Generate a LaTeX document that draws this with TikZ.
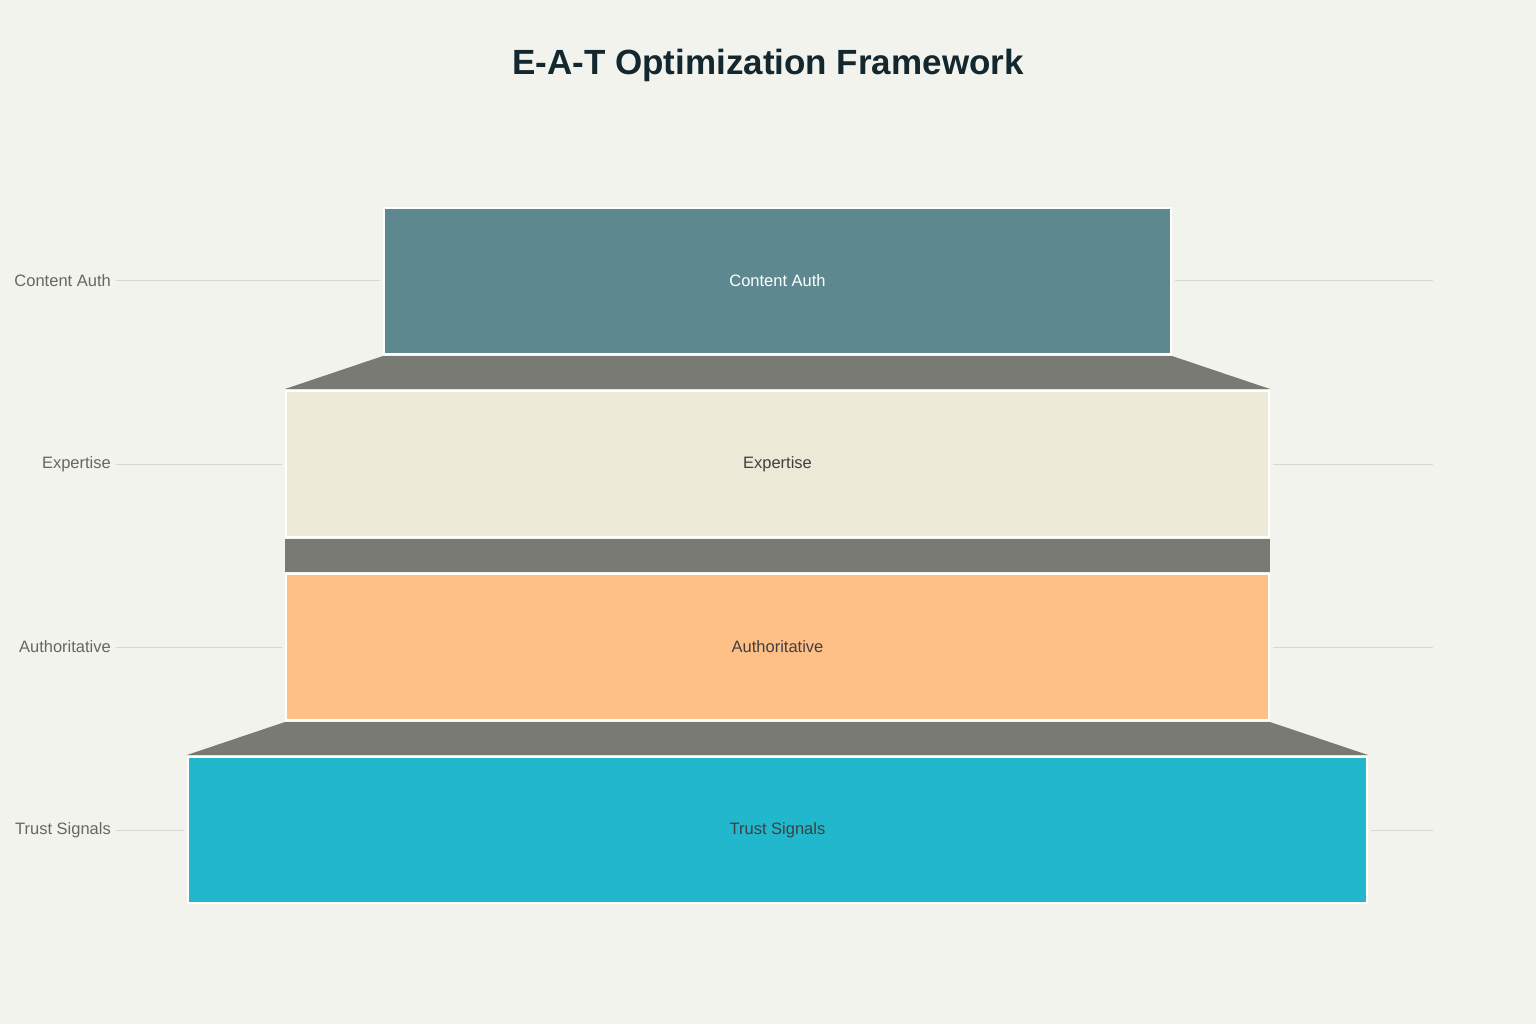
\documentclass[tikz,border=0pt]{standalone}
\usepackage{fontspec}
\setmainfont{Liberation Sans}
\usepackage{xcolor}

\definecolor{bgcol}{HTML}{F3F3EE}
\definecolor{titlecol}{HTML}{13272E}
\definecolor{bandcol}{HTML}{7A7A74}
\definecolor{guidecol}{HTML}{D8D8D3}
\definecolor{lblcol}{HTML}{666666}
\definecolor{authcol}{HTML}{5E8890}
\definecolor{expcol}{HTML}{ECEAD6}
\definecolor{authocol}{HTML}{FFC088}
\definecolor{trustcol}{HTML}{21B7CD}

\begin{document}
\begin{tikzpicture}[x=1pt,y=-1pt,
    level/.style={draw=white, line width=2pt, inner sep=0pt, minimum height=146pt,
        font=\fontsize{16.5}{19}\selectfont, text=black!75},
    sidelbl/.style={anchor=east, inner sep=0pt, text=lblcol, font=\fontsize{16.5}{19}\selectfont},
    guide/.style={draw=guidecol, line width=1pt},
    band/.style={fill=bandcol}]

    \fill[bgcol] (0,0) rectangle (1536,1024);
    \useasboundingbox (0,0) rectangle (1536,1024);

    \node[text=titlecol, font=\fontsize{35}{42}\bfseries] (title) at (768,65) {E-A-T Optimization Framework};

    % funnel levels
    \node[level, fill=authcol, text=white, minimum width=787pt] (content) at (777.5,281) {Content Auth};
    \node[level, fill=expcol, minimum width=983pt] (expert) at (777.5,464) {Expertise};
    \node[level, fill=authocol, minimum width=983pt] (author) at (777.5,647) {Authoritative};
    \node[level, fill=trustcol, minimum width=1179pt] (trust) at (777.5,830) {Trust Signals};

    % bands between the levels
    \fill[band] ([yshift=-1pt]content.south west) -- ([yshift=-1pt]content.south east)
        -- ([yshift=1pt]expert.north east) -- ([yshift=1pt]expert.north west) -- cycle;
    \fill[band] ([yshift=-1pt]expert.south west) -- ([yshift=-1pt]expert.south east)
        -- ([yshift=1pt]author.north east) -- ([yshift=1pt]author.north west) -- cycle;
    \fill[band] ([yshift=-1pt]author.south west) -- ([yshift=-1pt]author.south east)
        -- ([yshift=1pt]trust.north east) -- ([yshift=1pt]trust.north west) -- cycle;

    % side labels and guide lines
    \node[sidelbl] (lcontent) at (111,281) {Content Auth};
    \node[sidelbl] (lexpert) at (111,464) {Expertise};
    \node[sidelbl] (lauthor) at (111,647) {Authoritative};
    \node[sidelbl] (ltrust) at (111,830) {Trust Signals};

    \coordinate (rcontent) at (1433,281);
    \coordinate (rexpert) at (1433,464);
    \coordinate (rauthor) at (1433,647);
    \coordinate (rtrust) at (1433,830);

    \draw[guide] ([xshift=5pt]lcontent.east) -- ([xshift=-3pt]content.west);
    \draw[guide] ([xshift=3pt]content.east) -- (rcontent);
    \draw[guide] ([xshift=5pt]lexpert.east) -- ([xshift=-3pt]expert.west);
    \draw[guide] ([xshift=3pt]expert.east) -- (rexpert);
    \draw[guide] ([xshift=5pt]lauthor.east) -- ([xshift=-3pt]author.west);
    \draw[guide] ([xshift=3pt]author.east) -- (rauthor);
    \draw[guide] ([xshift=5pt]ltrust.east) -- ([xshift=-3pt]trust.west);
    \draw[guide] ([xshift=3pt]trust.east) -- (rtrust);

\end{tikzpicture}
\end{document}
